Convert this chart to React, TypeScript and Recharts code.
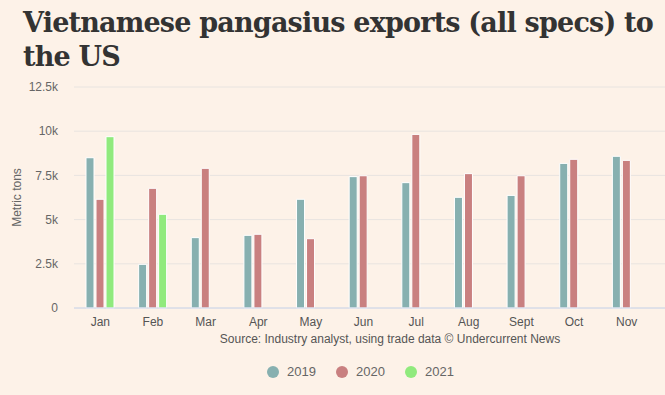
import React from 'react';
import { BarChart, Bar, XAxis, YAxis, CartesianGrid } from 'recharts';

const months = ['Jan', 'Feb', 'Mar', 'Apr', 'May', 'Jun', 'Jul', 'Aug', 'Sept', 'Oct', 'Nov'];
const exports2019 = [8500, 2470, 3980, 4110, 6150, 7430, 7090, 6260, 6370, 8180, 8580];
const exports2020 = [6150, 6770, 7900, 4170, 3920, 7480, 9820, 7600, 7480, 8410, 8350];
const exports2021 = [9690, 5300, null, null, null, null, null, null, null, null, null];
const yTicks = [0, 2500, 5000, 7500, 10000, 12500];

const SERIES = [
  { key: 'y2019', name: '2019', color: '#87b0b0' },
  { key: 'y2020', name: '2020', color: '#c98080' },
  { key: 'y2021', name: '2021', color: '#90ea7d' },
];

const data = months.map((m, i) => ({
  month: m,
  y2019: exports2019[i],
  y2020: exports2020[i],
  y2021: exports2021[i],
}));

const BG = '#fdf2e8';
const fmt = (v: number) => (v === 0 ? '0' : `${v / 1000}k`);

export default function App() {
  return (
    <div
      style={{
        position: 'absolute',
        left: 0,
        top: 0,
        width: 665,
        height: 395,
        background: BG,
        overflow: 'hidden',
        fontFamily: '"Liberation Sans", Arial, sans-serif',
      }}
    >
      <div
        style={{
          position: 'absolute',
          left: 23,
          top: 6,
          width: 640,
          fontFamily: '"DejaVu Serif", Georgia, serif',
          fontWeight: 700,
          fontSize: 27,
          letterSpacing: -0.8,
          lineHeight: '34px',
          color: '#333333',
        }}
      >
        Vietnamese pangasius exports (all specs) to the US
      </div>

      <div style={{ position: 'absolute', left: 0, top: 0 }}>
        <BarChart
          width={665}
          height={395}
          data={data}
          margin={{ top: 87, right: 0, left: 0, bottom: 57 }}
          barSize={8}
          barGap={2}
        >
          <CartesianGrid vertical={false} stroke="#e8e4e0" />
          <XAxis
            dataKey="month"
            height={30}
            tickLine={false}
            tickSize={0}
            tickMargin={9}
            axisLine={{ stroke: '#ccd6eb' }}
            padding={{ left: 0, right: 12 }}
            tick={{ fill: '#555555', fontSize: 12 }}
            interval={0}
          />
          <YAxis
            width={74}
            domain={[0, 12500]}
            ticks={yTicks}
            tickFormatter={fmt}
            axisLine={false}
            tickLine={false}
            tickSize={0}
            tickMargin={16}
            tick={{ fill: '#666666', fontSize: 12 }}
            label={{
              value: 'Metric tons',
              angle: -90,
              position: 'center',
              dx: -20,
              fill: '#666666',
              fontSize: 12,
            }}
          />
          {SERIES.map((s) => (
            <Bar
              key={s.key}
              dataKey={s.key}
              name={s.name}
              fill={s.color}
              stroke="#ffffff"
              strokeWidth={1}
              isAnimationActive={false}
            />
          ))}
        </BarChart>
      </div>

      <div
        style={{
          position: 'absolute',
          left: 0,
          width: 780,
          top: 332,
          textAlign: 'center',
          fontSize: 12,
          color: '#555555',
        }}
      >
        Source: Industry analyst, using trade data © Undercurrent News
      </div>

      <div
        style={{
          position: 'absolute',
          left: 0,
          width: 665,
          top: 364,
          display: 'flex',
          justifyContent: 'center',
          gap: 20,
          fontSize: 13,
          color: '#666666',
          paddingLeft: 56,
          boxSizing: 'border-box',
        }}
      >
        {SERIES.map((s) => (
          <div key={s.key} style={{ display: 'flex', alignItems: 'center' }}>
            <span
              style={{
                display: 'inline-block',
                width: 12,
                height: 12,
                borderRadius: 6,
                background: s.color,
                marginRight: 8,
              }}
            />
            {s.name}
          </div>
        ))}
      </div>
    </div>
  );
}
